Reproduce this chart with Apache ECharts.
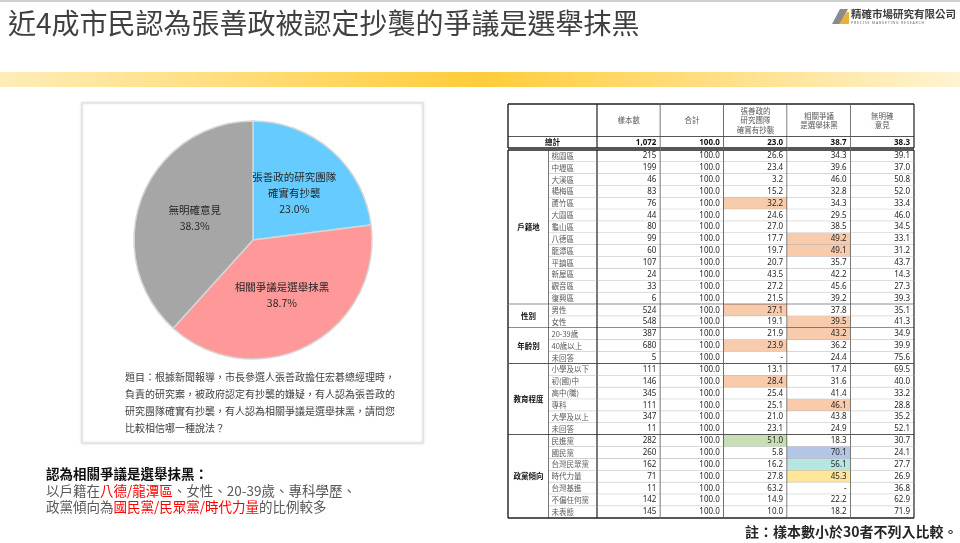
<!DOCTYPE html>
<html><head><meta charset="utf-8">
<script src="https://cdn.jsdelivr.net/npm/echarts@6/dist/echarts.min.js"></script>
<style>html,body{margin:0;padding:0;background:#fff}#c{width:960px;height:543px}</style>
</head><body><div id="c"></div>
<script>
// ---------- data ----------
const pieNames = ['張善政的研究團隊\n確實有抄襲', '相關爭議是選舉抹黑', '無明確意見'];
const pieValues = [23.0, 38.7, 38.3];

const columns = ['樣本數', '合計', '張善政的\n研究團隊\n確實有抄襲', '相關爭議\n是選舉抹黑', '無明確\n意見'];
const totalLabel = '總計';
const totalRow = [1072, 100.0, 23.0, 38.7, 38.3];

const groupNames = ['戶籍地', '性別', '年齡別', '教育程度', '政黨傾向'];
const groupSizes = [13, 2, 3, 6, 7];
const rowLabels = ['桃園區', '中壢區', '大溪區', '楊梅區', '蘆竹區', '大園區', '龜山區', '八德區', '龍潭區', '平鎮區', '新屋區', '觀音區', '復興區',
  '男性', '女性',
  '20-39歲', '40歲以上', '未回答',
  '小學及以下', '初(國)中', '高中(職)', '專科', '大學及以上', '未回答',
  '民進黨', '國民黨', '台灣民眾黨', '時代力量', '台灣基進', '不偏任何黨', '未表態'];
const sampleN = [215, 199, 46, 83, 76, 44, 80, 99, 60, 107, 24, 33, 6,
  524, 548,
  387, 680, 5,
  111, 146, 345, 111, 347, 11,
  282, 260, 162, 71, 11, 142, 145];
const pctTotal = [100.0, 100.0, 100.0, 100.0, 100.0, 100.0, 100.0, 100.0, 100.0, 100.0, 100.0, 100.0, 100.0,
  100.0, 100.0,
  100.0, 100.0, 100.0,
  100.0, 100.0, 100.0, 100.0, 100.0, 100.0,
  100.0, 100.0, 100.0, 100.0, 100.0, 100.0, 100.0];
const pctCopy = [26.6, 23.4, 3.2, 15.2, 32.2, 24.6, 27.0, 17.7, 19.7, 20.7, 43.5, 27.2, 21.5,
  27.1, 19.1,
  21.9, 23.9, null,
  13.1, 28.4, 25.4, 25.1, 21.0, 23.1,
  51.0, 5.8, 16.2, 27.8, 63.2, 14.9, 10.0];
const pctSmear = [34.3, 39.6, 46.0, 32.8, 34.3, 29.5, 38.5, 49.2, 49.1, 35.7, 42.2, 45.6, 39.2,
  37.8, 39.5,
  43.2, 36.2, 24.4,
  17.4, 31.6, 41.4, 46.1, 43.8, 24.9,
  18.3, 70.1, 56.1, 45.3, null, 22.2, 18.2];
const pctNone = [39.1, 37.0, 50.8, 52.0, 33.4, 46.0, 34.5, 33.1, 31.2, 43.7, 14.3, 27.3, 39.3,
  35.1, 41.3,
  34.9, 39.9, 75.6,
  69.5, 40.0, 33.2, 28.8, 35.2, 52.1,
  30.7, 24.1, 27.7, 26.9, 36.8, 62.9, 71.9];
// [row index, column index, kind]
const highlights = [[4, 2, 'high'], [7, 3, 'high'], [8, 3, 'high'], [13, 2, 'high'], [14, 3, 'high'],
  [15, 3, 'high'], [16, 2, 'high'], [19, 2, 'high'], [21, 3, 'high'],
  [24, 2, 'dpp'], [25, 3, 'kmt'], [26, 3, 'tpp'], [27, 3, 'npp']];

const questionLines = ['題目：根據新聞報導，市長參選人張善政擔任宏碁總經理時，',
  '負責的研究案，被政府認定有抄襲的嫌疑，有人認為張善政的',
  '研究團隊確實有抄襲，有人認為相關爭議是選舉抹黑，請問您',
  '比較相信哪一種說法？'];

// ---------- styling ----------
const FONT = '"Noto Sans CJK TC", "Noto Sans", sans-serif';
const NUMFONT = '"Noto Sans", "Liberation Sans", sans-serif';
const fillColors = { high: '#F8CBAD', dpp: '#C6E0B4', kmt: '#B4C6E7', tpp: '#B5E6E2', npp: '#FFE699' };
const DARK = '#1f1f1f', LIGHT = '#b0b0b0';

function fmt(v, col) {
  if (v == null) return '-';
  if (col === 0) return v.toLocaleString('en-US');
  return v.toFixed(1);
}

const series = [];
function cellSeries(gi, cells) {
  series.push({
    type: 'custom', xAxisIndex: gi, yAxisIndex: gi, silent: true, animation: false, clip: false,
    data: cells.map(c => [c.x, c.y, c.y2 != null ? c.y2 : c.y]),
    renderItem(params, api) {
      const c = cells[params.dataIndex];
      const p0 = api.coord([api.value(0), api.value(1)]);
      const p1 = api.coord([api.value(0), api.value(2)]);
      const s = api.size([1, 1]);
      const x = p0[0] - s[0] / 2, y = p0[1] - s[1] / 2, w = s[0], h = p1[1] - p0[1] + s[1];
      const ch = [];
      ch.push({ type: 'rect', shape: { x: x, y: y, width: w, height: h }, style: { fill: c.bg || '#fff' } });
      ch.push({ type: 'line', shape: { x1: x, y1: y + h, x2: x + w, y2: y + h },
        style: { stroke: c.bottomDark ? DARK : LIGHT, lineWidth: c.bottomDark ? 1.3 : 0.9 } });
      if (c.top) ch.push({ type: 'line', shape: { x1: x, y1: y, x2: x + w, y2: y }, style: { stroke: DARK, lineWidth: 1.3 } });
      ch.push({ type: 'line', shape: { x1: x + w, y1: y, x2: x + w, y2: y + h }, style: { stroke: DARK, lineWidth: 1.2 } });
      if (c.leftEdge) ch.push({ type: 'line', shape: { x1: x, y1: y, x2: x, y2: y + h }, style: { stroke: DARK, lineWidth: 1.4 } });
      if (c.text) {
        let tx = x + w / 2;
        if (c.align === 'right') tx = x + w - 4;
        if (c.align === 'left') tx = x + 2.5;
        ch.push({ type: 'text', style: {
          text: c.text, x: tx, y: y + h / 2, align: c.align || 'center', verticalAlign: 'middle',
          fontSize: c.size || 7.5, fontFamily: c.num ? NUMFONT : FONT, fontWeight: c.bold ? 'bold' : 'normal',
          fill: c.color || '#262626', lineHeight: c.lh || 10
        } });
      }
      return { type: 'group', children: ch };
    }
  });
}

// grids: 0 head-num, 1 head-label, 2 total-num, 3 total-label, 4 body-num, 5 group, 6 sub-label
const grids = [
  { left: 597, top: 104, width: 317, height: 33 },
  { left: 508, top: 104, width: 89, height: 33 },
  { left: 597, top: 137, width: 317, height: 11 },
  { left: 508, top: 137, width: 89, height: 11 },
  { left: 597, top: 150, width: 317, height: 368 },
  { left: 508, top: 150, width: 41, height: 368 },
  { left: 549, top: 150, width: 48, height: 368 }
].map(g => Object.assign({ outerBoundsMode: 'none', containLabel: false, show: false }, g));
const rowKeys = rowLabels.map((l, i) => i + ':' + l);
const xCats = [columns, ['h'], columns, ['t'], columns, ['g'], ['s']];
const yCats = [['head'], ['head'], [totalLabel], [totalLabel], rowKeys, rowKeys, rowKeys];
const xAxis = xCats.map((d, i) => ({ type: 'category', gridIndex: i, data: d, show: false }));
const yAxis = yCats.map((d, i) => ({ type: 'category', gridIndex: i, data: d, show: false, inverse: true }));

// header
cellSeries(0, columns.map((c, i) => ({ x: i, y: 0, text: c, color: '#595959', size: 7.5, lh: 9.6, top: true, bottomDark: true })));
cellSeries(1, [{ x: 0, y: 0, text: '', top: true, leftEdge: true, bottomDark: true }]);
// total row
cellSeries(2, totalRow.map((v, i) => ({ x: i, y: 0, text: fmt(v, i), align: 'right', num: true, size: 8, bold: true, color: '#111', bottomDark: true })));
cellSeries(3, [{ x: 0, y: 0, text: totalLabel, bold: true, size: 7.5, color: '#111', leftEdge: true, bottomDark: true }]);
// body
const groupEnd = new Set();
let acc = 0;
const groupCells = groupNames.map((g, gi) => {
  const start = acc; acc += groupSizes[gi]; groupEnd.add(acc - 1);
  return { x: 0, y: start, y2: acc - 1, text: g, bold: true, size: 7.5, color: '#111', leftEdge: true, bottomDark: true, top: gi === 0 };
});
const hlMap = {};
highlights.forEach(h => { hlMap[h[0] + '_' + h[1]] = fillColors[h[2]]; });
const valueCols = [sampleN, pctTotal, pctCopy, pctSmear, pctNone];
const bodyCells = [];
rowLabels.forEach((l, r) => {
  valueCols.forEach((arr, ci) => {
    bodyCells.push({ x: ci, y: r, text: fmt(arr[r], ci), align: 'right', num: true, size: 8, color: '#262626',
      bg: hlMap[r + '_' + ci], bottomDark: groupEnd.has(r), top: r === 0 });
  });
});
cellSeries(4, bodyCells);
cellSeries(5, groupCells);
cellSeries(6, rowLabels.map((l, r) => ({ x: 0, y: r, text: l, align: 'left', size: 7.5, color: '#595959', bottomDark: groupEnd.has(r), top: r === 0 })));

// pie
series.push({
  type: 'pie', center: [253, 240], radius: 119, startAngle: 90, clockwise: true, animation: false, silent: true,
  data: pieNames.map((n, i) => ({ name: n, value: pieValues[i] })),
  color: ['#66CCFF', '#FF9999', '#A6A6A6'],
  itemStyle: { borderColor: '#d6d6d6', borderWidth: 1.5 },
  label: { show: true, position: 'inside', formatter: p => p.name + '\n' + p.value.toFixed(1) + '%',
    fontSize: 10.5, lineHeight: 16, color: '#262626', fontFamily: FONT },
  labelLine: { show: false }, emphasis: { disabled: true }
});

const graphic = [
  { type: 'rect', z: -10, shape: { x: 0, y: 0, width: 960, height: 2 }, style: { fill: '#cfcfcf' } },
  { type: 'text', x: 8, y: 23, style: { text: '近4成市民認為張善政被認定抄襲的爭議是選舉抹黑', fontSize: 28, fontFamily: FONT, fill: '#404040', verticalAlign: 'middle' } },
  { type: 'rect', z: -10, shape: { x: 0, y: 72, width: 960, height: 15 }, style: { fill: new echarts.graphic.LinearGradient(0, 0, 1, 0, [
    { offset: 0, color: '#FFEDB8' }, { offset: 0.5, color: '#FFCC3A' }, { offset: 1, color: '#FFF3D2' }]) } },
  // logo
  { type: 'polygon', shape: { points: [[832, 24], [840, 9], [848, 9], [840, 24]] }, style: { fill: '#8c8c8c' } },
  { type: 'polygon', shape: { points: [[839, 24], [847, 12], [849, 12], [849, 24]] }, style: { fill: '#E8B23A' } },
  { type: 'text', x: 851, y: 14, style: { text: '精確市場研究有限公司', fontSize: 10.5, fontWeight: 'bold', fontFamily: FONT, fill: '#404040', verticalAlign: 'middle' } },
  { type: 'text', x: 851, y: 23, style: { text: 'P R E C I S E   M A R K E T I N G   R E S E A R C H', fontSize: 3.4, fontFamily: NUMFONT, fill: '#666', verticalAlign: 'middle' } },
  // pie box
  { type: 'rect', z: -5, shape: { x: 82, y: 103, width: 341, height: 340 }, style: { fill: '#fff', stroke: '#e2e2e2', lineWidth: 1.5, shadowBlur: 3, shadowColor: 'rgba(0,0,0,0.10)' } },
  { type: 'text', x: 125, y: 368.5, style: { text: questionLines.join('\n'), fontSize: 10, lineHeight: 17, fontFamily: FONT, fill: '#404040' } },
  // conclusion
  { type: 'text', x: 46, y: 466, style: {
    text: '{b|認為相關爭議是選舉抹黑：}\n以戶籍在{r|八德/龍潭區}、女性、20-39歲、專科學歷、\n政黨傾向為{r|國民黨/民眾黨/時代力量}的比例較多',
    fontSize: 13.5, lineHeight: 16.5, fontFamily: FONT, fill: '#595959',
    rich: { b: { fontWeight: 'bold', fill: '#111', fontSize: 13.5, lineHeight: 16.5, fontFamily: FONT },
            r: { fill: '#FF0000', fontSize: 13.5, lineHeight: 16.5, fontFamily: FONT } } } },
  { type: 'text', x: 745, y: 532, style: { text: '註：樣本數小於30者不列入比較。', fontSize: 14, fontWeight: 'bold', fontFamily: FONT, fill: '#262626', verticalAlign: 'middle' } }
];

const chart = echarts.init(document.getElementById('c'), null, { renderer: 'canvas' });
chart.setOption({ animation: false, backgroundColor: '#fff', grid: grids, xAxis: xAxis, yAxis: yAxis, series: series, graphic: graphic });
</script></body></html>
